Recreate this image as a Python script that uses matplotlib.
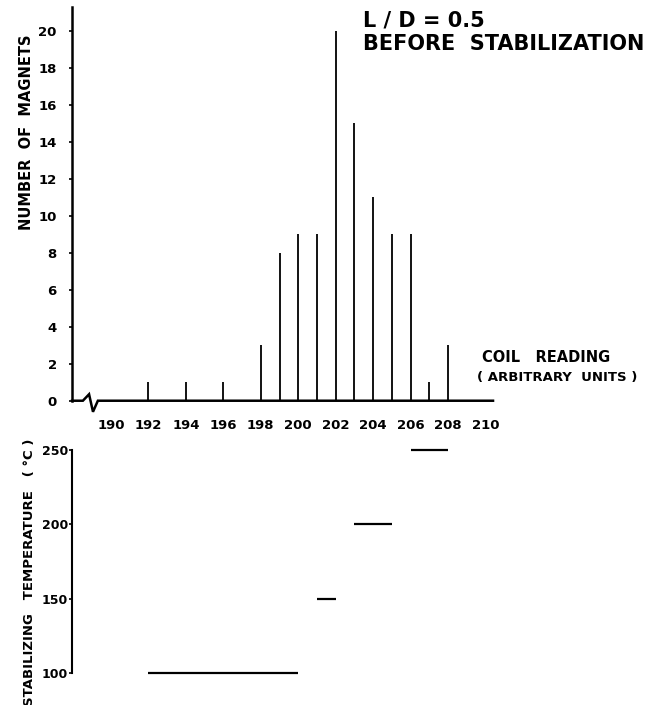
import matplotlib
matplotlib.use("Agg")
import matplotlib.pyplot as plt
import numpy as np

plt.rcParams['font.family'] = ['DejaVu Sans']

# ---- data ----
coil_reading = [192, 194, 196, 198, 199, 200, 201, 202, 203, 204, 205, 206, 207, 208]
num_magnets = [1, 1, 1, 3, 8, 9, 9, 20, 15, 11, 9, 9, 1, 3]

temp_start = [192, 201, 203, 206]
temp_end = [200, 202, 205, 208]
stab_temp = [100, 150, 200, 250]

x_ticks = [190, 192, 194, 196, 198, 200, 202, 204, 206, 208, 210]
y_ticks_top = [0, 2, 4, 6, 8, 10, 12, 14, 16, 18, 20]
y_ticks_bot = [100, 150, 200, 250]

XMIN, XMAX = 187.92, 210.4

fig = plt.figure(figsize=(6.65, 7.05), dpi=100)

# ---- top histogram ----
ax = fig.add_axes([0.1083, 0.4316, 0.6331, 0.5586])
ax.vlines(coil_reading, 0, num_magnets, color='black', lw=1.3)
ax.set_xlim(XMIN, XMAX)
ax.set_ylim(0, 21.3)
for s in ['top', 'right', 'bottom']:
    ax.spines[s].set_visible(False)
ax.spines['left'].set_linewidth(1.8)

# axis line with break mark
brk = [XMIN, 188.5, 188.83, 189.04, 189.3, XMAX]
brk_y = [0, 0, 0.35, -0.6, 0, 0]
ax.plot(brk, brk_y, color='black', lw=1.8, clip_on=False, solid_joinstyle='miter')

ax.set_xticks(x_ticks)
ax.set_xticklabels([str(t) for t in x_ticks], fontsize=9.5, fontweight='bold')
ax.tick_params(axis='x', length=0, pad=13)
ax.set_yticks(y_ticks_top)
ax.set_yticklabels([str(t) for t in y_ticks_top], fontsize=9.5, fontweight='bold')
ax.tick_params(axis='y', length=2, width=1.2, pad=9)

fig.text(0.040, 1 - 132 / 705, 'NUMBER  OF  MAGNETS', rotation=90, fontsize=10.5,
         fontweight='bold', ha='center', va='center')

fig.text(363 / 665, 1 - 27 / 705, 'L / D = 0.5', fontsize=15, fontweight='bold',
         ha='left', va='baseline')
fig.text(363 / 665, 1 - 50 / 705, 'BEFORE  STABILIZATION', fontsize=15, fontweight='bold',
         ha='left', va='baseline')

fig.text(482 / 665, 1 - 362 / 705, 'COIL   READING', fontsize=10.5, fontweight='bold',
         ha='left', va='baseline')
fig.text(477 / 665, 1 - 381 / 705, '( ARBITRARY  UNITS )', fontsize=9.5, fontweight='bold',
         ha='left', va='baseline')

# ---- bottom temperature plot ----
ax2 = fig.add_axes([0.1083, 0.0, 0.6331, 0.376])
ax2.hlines(stab_temp, temp_start, temp_end, color='black', lw=1.6)
ax2.set_xlim(XMIN, XMAX)
ax2.set_ylim(78.5, 256.7)
for s in ['top', 'right', 'bottom']:
    ax2.spines[s].set_visible(False)
ax2.spines['left'].set_bounds(100, 250)
ax2.spines['left'].set_linewidth(1.5)
ax2.set_xticks([])
ax2.set_yticks(y_ticks_bot)
ax2.set_yticklabels([str(t) for t in y_ticks_bot], fontsize=9, fontweight='bold')
ax2.tick_params(axis='y', length=2, width=1.2, pad=1)

fig.text(0.045, 1 - 572 / 705, 'STABILIZING   TEMPERATURE   ( °C )', rotation=90,
         fontsize=9.5, fontweight='bold', ha='center', va='center')

fig.savefig('out.png', dpi=100)
